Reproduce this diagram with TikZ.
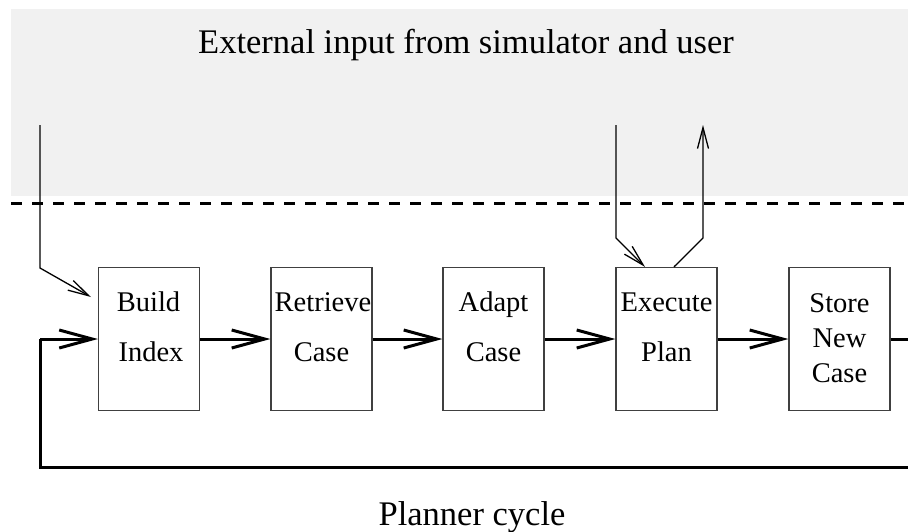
\documentclass[tikz,border=0pt]{standalone}
\usepackage{fontspec}
\setmainfont{Liberation Serif}
\usetikzlibrary{arrows.meta,calc}
\definecolor{bggray}{RGB}{241,241,241}
\tikzset{
  stepbox/.style={draw=black!75, line width=1.2pt, minimum width=101pt, minimum height=143pt, inner sep=0pt},
  lbl/.style={font=\fontsize{28.5}{30}\selectfont, inner sep=0pt, anchor=base},
  big/.style={font=\fontsize{34.5}{36}\selectfont, inner sep=0pt, anchor=base},
  flow/.style={line width=3pt, -{Straight Barb[length=33pt,width=18pt]}},
  loopline/.style={line width=3pt},
  thinarrow/.style={line width=1.3pt, -{Straight Barb[length=21pt,width=11pt]}},
}
\begin{document}
\begin{tikzpicture}[x=1pt,y=-1pt]
\useasboundingbox (0,0) rectangle (908,531);
\clip (0,0) rectangle (908,531);
\fill[bggray] (11,9) rectangle (910,196);
\draw[line width=3pt, dash pattern=on 11pt off 10pt] (11,203) -- (910,203);

\node[big] (title) at (466,53) {External input from simulator and user};
\node[big] (cycle) at (472,525) {Planner cycle};

\node[stepbox] (build) at (149,339) {};
\node[stepbox] (retr) at (321.5,339) {};
\node[stepbox] (adapt) at (493.5,339) {};
\node[stepbox] (exec) at (666.5,339) {};
\node[stepbox] (store) at (839.5,339) {};

\node[lbl] (buildA) at (148.5,311) {Build};
\node[lbl] (buildB) at (151,361) {Index};
\node[lbl] (retrA) at (323,311) {Retrieve};
\node[lbl] (retrB) at (321.5,361) {Case};
\node[lbl] (adaptA) at (493.5,311) {Adapt};
\node[lbl] (adaptB) at (493.5,361) {Case};
\node[lbl] (execA) at (666.5,311) {Execute};
\node[lbl] (execB) at (666.5,361) {Plan};
\node[lbl] (storeA) at (839.5,312) {Store};
\node[lbl] (storeB) at (839.5,347) {New};
\node[lbl] (storeC) at (839.5,382) {Case};

\draw[flow] (build.east) -- (retr.west);
\draw[flow] (retr.east) -- (adapt.west);
\draw[flow] (adapt.east) -- (exec.west);
\draw[flow] (exec.east) -- (store.west);

\coordinate (loopR) at (915,339);
\coordinate (loopBR) at (915,467);
\coordinate (loopBL) at (40,467);
\coordinate (loopL) at (40,339);
\draw[loopline] (store.east) -- (loopR) -- (loopBR) -- (loopBL) -- (loopL);
\draw[flow] (loopL) -- (build.west);

\coordinate (inTop) at (40,125);
\coordinate (inBend) at (40,268);
\coordinate (inTip) at (91,297);
\draw[thinarrow] (inTop) -- (inBend) -- (inTip);

\coordinate (exInTop) at (616,125);
\coordinate (exInBend) at (616,238);
\draw[thinarrow] (exInTop) -- (exInBend) -- ([xshift=-21.5pt]exec.north);

\coordinate (exOutBend) at (703,238);
\coordinate (exOutTop) at (703,125);
\draw[thinarrow] ([xshift=7.5pt]exec.north) -- (exOutBend) -- (exOutTop);
\end{tikzpicture}
\end{document}
